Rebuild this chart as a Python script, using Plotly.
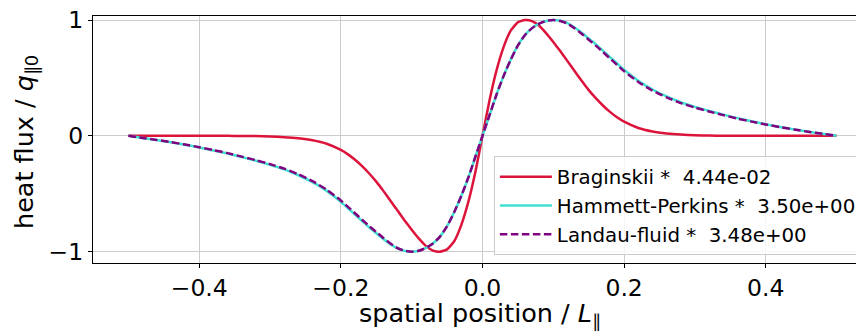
import plotly.graph_objects as go

# spatial positions (shared by all three series)
x_pos = [-0.50, -0.48, -0.46, -0.44, -0.42, -0.40, -0.38, -0.36, -0.34, -0.32,
         -0.30, -0.28, -0.26, -0.24, -0.22, -0.20, -0.19, -0.18, -0.17, -0.16,
         -0.15, -0.14, -0.13, -0.12, -0.11, -0.10, -0.09, -0.08, -0.07, -0.06,
         -0.05, -0.04, -0.03, -0.02, -0.01, 0.00,
         0.01, 0.02, 0.03, 0.04, 0.05, 0.06, 0.07, 0.08, 0.09, 0.10,
         0.11, 0.12, 0.13, 0.14, 0.15, 0.16, 0.17, 0.18, 0.19, 0.20,
         0.22, 0.24, 0.26, 0.28, 0.30, 0.32, 0.34, 0.36, 0.38, 0.40,
         0.42, 0.44, 0.46, 0.48, 0.50]

braginskii = [0.0, 0.0, 0.0, 0.0, 0.0, 0.0, 0.0, 0.0, -0.001, -0.002,
              -0.005, -0.011, -0.021, -0.038, -0.068, -0.122, -0.16, -0.207, -0.262, -0.325,
              -0.395, -0.475, -0.56, -0.645, -0.73, -0.81, -0.885, -0.95, -0.99, -1.0,
              -0.98, -0.91, -0.77, -0.57, -0.31, 0.0,
              0.31, 0.57, 0.77, 0.91, 0.98, 1.0, 0.99, 0.95, 0.885, 0.81,
              0.73, 0.645, 0.56, 0.475, 0.395, 0.325, 0.262, 0.207, 0.16, 0.122,
              0.068, 0.038, 0.021, 0.011, 0.005, 0.002, 0.001, 0.0, 0.0, 0.0,
              0.0, 0.0, 0.0, 0.0, 0.0]

hammett_perkins = [0.0, -0.018, -0.036, -0.056, -0.077, -0.10, -0.126, -0.153, -0.183, -0.215,
                   -0.25, -0.29, -0.34, -0.40, -0.475, -0.57, -0.625, -0.68, -0.735, -0.79,
                   -0.84, -0.89, -0.935, -0.972, -0.993, -1.0, -0.992, -0.968, -0.93, -0.87,
                   -0.78, -0.66, -0.52, -0.36, -0.18, 0.0,
                   0.18, 0.36, 0.52, 0.66, 0.78, 0.87, 0.93, 0.968, 0.992, 1.0,
                   0.993, 0.972, 0.935, 0.89, 0.84, 0.79, 0.735, 0.68, 0.625, 0.57,
                   0.475, 0.40, 0.34, 0.29, 0.25, 0.215, 0.183, 0.153, 0.126, 0.10,
                   0.077, 0.056, 0.036, 0.018, 0.0]

landau_fluid = [0.0, -0.018, -0.035, -0.055, -0.075, -0.098, -0.123, -0.149, -0.179, -0.21,
                -0.244, -0.283, -0.332, -0.391, -0.465, -0.558, -0.613, -0.668, -0.724, -0.779,
                -0.83, -0.882, -0.929, -0.969, -0.992, -1.0, -0.992, -0.968, -0.93, -0.87,
                -0.78, -0.66, -0.52, -0.36, -0.18, 0.0,
                0.18, 0.36, 0.52, 0.66, 0.78, 0.87, 0.93, 0.968, 0.992, 1.0,
                0.992, 0.969, 0.929, 0.882, 0.83, 0.779, 0.724, 0.668, 0.613, 0.558,
                0.465, 0.391, 0.332, 0.283, 0.244, 0.21, 0.179, 0.149, 0.123, 0.098,
                0.075, 0.055, 0.035, 0.018, 0.0]

series_names = ["Braginskii *\u00a0 4.44e-02",
                "Hammett-Perkins *\u00a0 3.50e+00",
                "Landau-fluid *\u00a0 3.48e+00"]

x_ticks = [-0.4, -0.2, 0.0, 0.2, 0.4]
y_ticks = [-1, 0, 1]

FONT = "DejaVu Sans"

fig = go.Figure()
fig.add_trace(go.Scatter(x=x_pos, y=braginskii, mode="lines", name=series_names[0],
                         line=dict(color="#DC143C", width=2.5, shape="spline", smoothing=0.5)))
fig.add_trace(go.Scatter(x=x_pos, y=hammett_perkins, mode="lines", name=series_names[1],
                         line=dict(color="#40E0D0", width=2.5, shape="spline", smoothing=0.5)))
fig.add_trace(go.Scatter(x=x_pos, y=landau_fluid, mode="lines", name=series_names[2],
                         line=dict(color="#800080", width=2.5, dash="7.5px,3.5px",
                                   shape="spline", smoothing=0.5)))

fig.update_layout(
    width=864, height=333,
    margin=dict(l=85, r=0, t=8, b=78, autoexpand=False),
    paper_bgcolor="white", plot_bgcolor="white",
    font=dict(family=FONT, color="black"),
    showlegend=True,
    legend=dict(x=0.987, y=0.432, xanchor="right", yanchor="top",
                bgcolor="rgba(255,255,255,0.8)", bordercolor="#cccccc", borderwidth=1,
                font=dict(family=FONT, size=19.8, color="black"),
                itemwidth=52, tracegroupgap=0),
    annotations=[
        dict(text="spatial position / <i>L</i><sub>∥</sub>", xref="x", yref="paper",
             x=-0.003, y=-0.21, xanchor="center", yanchor="middle", showarrow=False,
             font=dict(family=FONT, size=25.5, color="black")),
        dict(text="heat flux / <i>q</i><sub>∥0</sub>", xref="paper", yref="paper",
             x=-0.086, y=0.49, xanchor="center", yanchor="middle", showarrow=False,
             textangle=-90, font=dict(family=FONT, size=25.5, color="black")),
    ],
)
fig.update_xaxes(
    range=[-0.55, 0.55], tickvals=x_ticks, tickformat=".1f", automargin=False,
    showgrid=True, gridcolor="#cccccc", gridwidth=1, zeroline=False,
    showline=True, linecolor="black", linewidth=1.2, mirror=True,
    ticks="outside", ticklen=4, tickwidth=1.2, tickcolor="black",
    tickfont=dict(family=FONT, size=23.5), ticklabeloverflow="allow",
)
fig.update_yaxes(
    range=[-1.0975, 1.0345], tickvals=y_ticks, automargin=False,
    showgrid=True, gridcolor="#cccccc", gridwidth=1, zeroline=False,
    showline=True, linecolor="black", linewidth=1.2,
    ticks="outside", ticklen=4, tickwidth=1.2, tickcolor="black",
    tickfont=dict(family=FONT, size=23.5), ticklabeloverflow="allow",
)

fig.write_html("out.html", config={"displayModeBar": False})
